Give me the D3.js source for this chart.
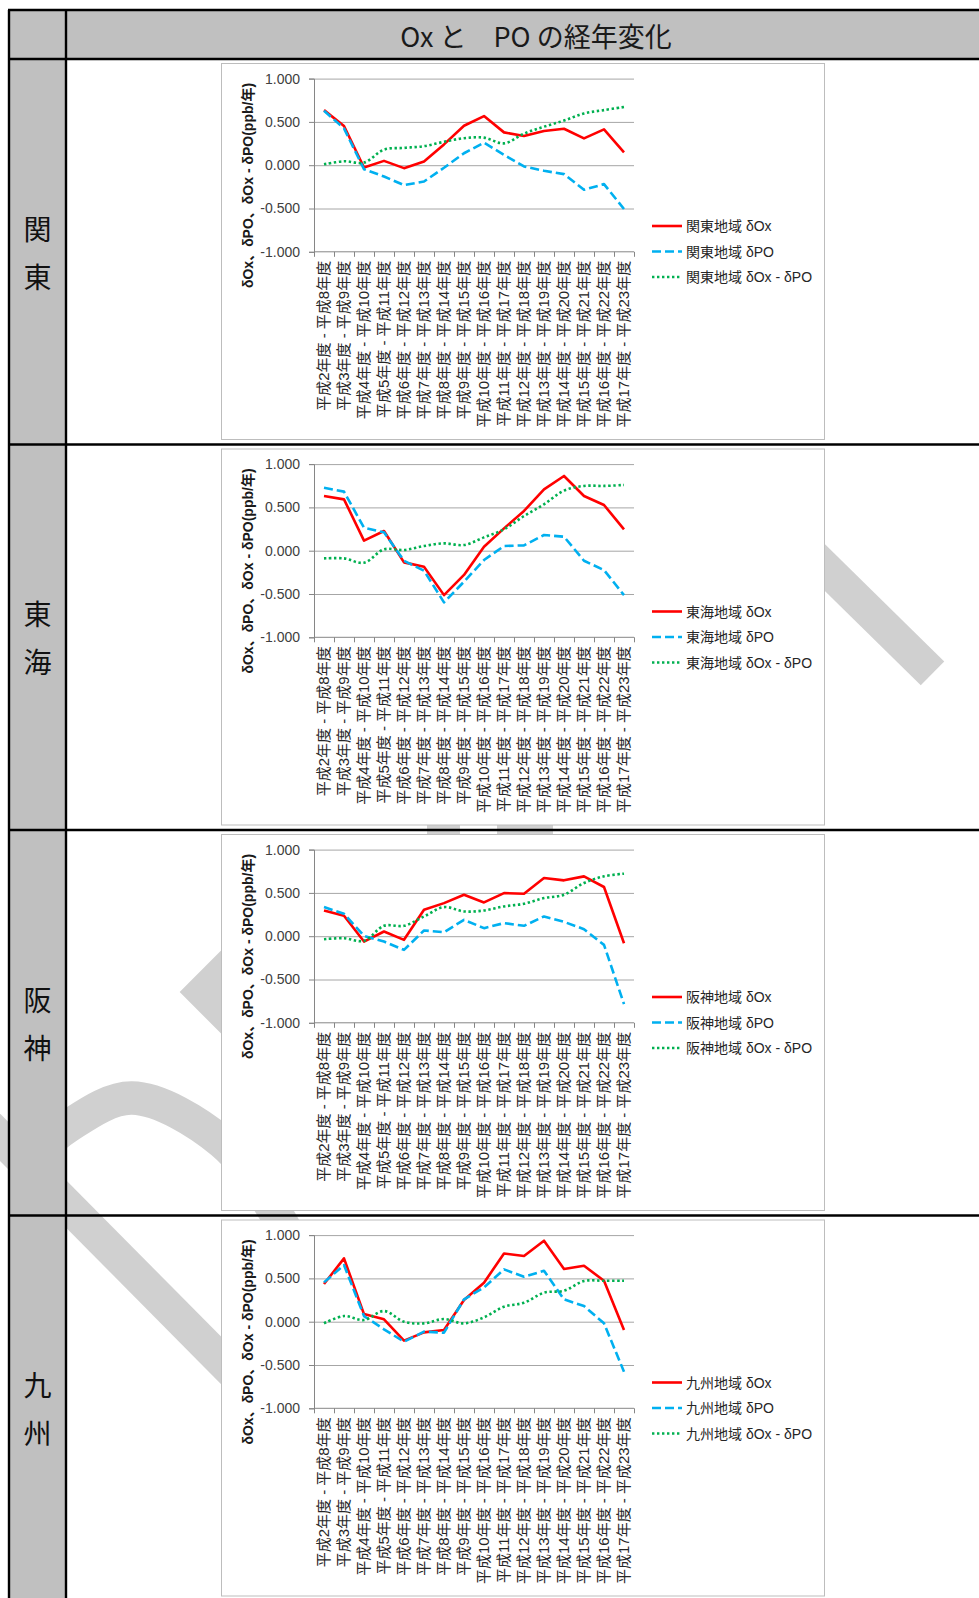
<!DOCTYPE html>
<html>
<head>
<meta charset="utf-8">
<script src="https://cdn.jsdelivr.net/npm/d3@7"></script>
<style>
  html, body { margin: 0; padding: 0; background: #fff; }
  svg { display: block; }
</style>
</head>
<body>
<svg id="chart" width="979" height="1598"></svg>
<script>
// ---- data -------------------------------------------------------------
const pageTitle = "Ox と\u3000PO の経年変化";

const periodLabels = [
  "平成2年度 - 平成8年度", "平成3年度 - 平成9年度", "平成4年度 - 平成10年度",
  "平成5年度 - 平成11年度", "平成6年度 - 平成12年度", "平成7年度 - 平成13年度",
  "平成8年度 - 平成14年度", "平成9年度 - 平成15年度", "平成10年度 - 平成16年度",
  "平成11年度 - 平成17年度", "平成12年度 - 平成18年度", "平成13年度 - 平成19年度",
  "平成14年度 - 平成20年度", "平成15年度 - 平成21年度", "平成16年度 - 平成22年度",
  "平成17年度 - 平成23年度"
];

const regionLabels = ["関東", "東海", "阪神", "九州"];
const regionNames  = ["関東地域", "東海地域", "阪神地域", "九州地域"];
const seriesNames  = ["δOx", "δPO", "δOx - δPO"];

const yTickValues = [1, 0.5, 0, -0.5, -1];
const axisTitle = "δOx、δPO、δOx - δPO(ppb/年)";

// 関東
const kantoOx   = [0.636, 0.452, -0.027, 0.050, -0.034, 0.042, 0.240, 0.456, 0.567, 0.379, 0.337, 0.395, 0.421, 0.310, 0.414, 0.149];
const kantoPO   = [0.628, 0.425, -0.046, -0.130, -0.230, -0.188, -0.030, 0.138, 0.260, 0.119, -0.015, -0.065, -0.103, -0.284, -0.218, -0.506];
const kantoDiff = [0.010, 0.045, 0.030, 0.180, 0.200, 0.220, 0.270, 0.312, 0.318, 0.252, 0.365, 0.445, 0.515, 0.598, 0.636, 0.672];
// 東海
const tokaiOx   = [0.632, 0.593, 0.116, 0.227, -0.135, -0.185, -0.513, -0.280, 0.046, 0.258, 0.459, 0.709, 0.863, 0.632, 0.528, 0.247];
const tokaiPO   = [0.728, 0.682, 0.266, 0.212, -0.116, -0.231, -0.597, -0.358, -0.108, 0.054, 0.062, 0.181, 0.162, -0.116, -0.224, -0.513];
const tokaiDiff = [-0.089, -0.089, -0.139, 0.015, 0.008, 0.054, 0.085, 0.066, 0.154, 0.247, 0.400, 0.536, 0.694, 0.748, 0.748, 0.759];
// 阪神
const hanshinOx   = [0.297, 0.236, -0.062, 0.054, -0.042, 0.305, 0.382, 0.479, 0.390, 0.498, 0.490, 0.672, 0.645, 0.691, 0.568, -0.081];
const hanshinPO   = [0.336, 0.259, 0.004, -0.062, -0.158, 0.066, 0.046, 0.189, 0.093, 0.151, 0.120, 0.228, 0.166, 0.081, -0.100, -0.784];
const hanshinDiff = [-0.035, -0.023, -0.054, 0.120, 0.120, 0.228, 0.336, 0.286, 0.297, 0.344, 0.375, 0.440, 0.479, 0.614, 0.691, 0.722];
// 九州
const kyushuOx   = [0.435, 0.731, 0.088, 0.027, -0.219, -0.123, -0.096, 0.250, 0.450, 0.788, 0.758, 0.935, 0.608, 0.646, 0.473, -0.096];
const kyushuPO   = [0.454, 0.654, 0.065, -0.088, -0.231, -0.115, -0.127, 0.258, 0.396, 0.604, 0.519, 0.588, 0.258, 0.181, -0.019, -0.577];
const kyushuDiff = [-0.019, 0.065, 0.019, 0.123, 0.000, -0.019, 0.031, -0.019, 0.050, 0.173, 0.219, 0.335, 0.358, 0.469, 0.473, 0.473];

const regionSeries = [
  [kantoOx, kantoPO, kantoDiff],
  [tokaiOx, tokaiPO, tokaiDiff],
  [hanshinOx, hanshinPO, hanshinDiff],
  [kyushuOx, kyushuPO, kyushuDiff]
];

// ---- page layout ------------------------------------------------------
const W = 979, H = 1598;
const outerX = 9, colDivX = 66, topY = 10, titleY = 59;
const rowTops = [59, 444.5, 830, 1215.5];
const rowH = 385.5;
const ruleW = 2.4;
const cellGray = "#c0c0c0";

const boxLeft = 221.5, boxWidth = 603, boxHeight = 377;
const plotLeft = 314, plotRight = 634;

const seriesStyles = [
  { color: "#ff0000", dash: null,      curve: d3.curveLinear },
  { color: "#00b0f0", dash: "9,4",     curve: d3.curveLinear },
  { color: "#00b050", dash: "2.4,2.6", curve: d3.curveCatmullRom.alpha(0.5) }
];

const latinFont = "'Liberation Sans', 'Noto Sans CJK JP', sans-serif";
const cjkFont = "'Noto Sans CJK JP', sans-serif";

const fmt = d3.formatLocale({
  decimal: ".", thousands: ",", grouping: [3], currency: ["", ""], minus: "-"
}).format(".3f");

const svg = d3.select("#chart");
svg.append("rect").attr("width", W).attr("height", H).attr("fill", "#fff");

// ---- background stamp (light grey strokes behind the table) ---------
const stampGray = "#d0d0d0";
const stamp = svg.append("g")
  .attr("fill", "none")
  .attr("stroke", stampGray)
  .attr("stroke-width", 33.5);

stamp.append("path")
  .attr("d", d3.line()([[767, 510.7], [932.5, 673.4]]));

stamp.append("path")
  .attr("stroke-linejoin", "miter")
  .attr("d", d3.line()([[303, 892], [203.3, 992], [303, 1092]]));

stamp.append("path")
  .attr("d", d3.line().curve(d3.curveCatmullRom.alpha(0.5))(
    [[40, 1150], [67, 1127], [132, 1098], [222, 1142], [275, 1212], [320, 1300]]));

stamp.append("path")
  .attr("d", d3.line()([[-20, 1117], [400, 1541]]));

// stamp strokes that pass between the second and third charts
svg.append("g").attr("fill", stampGray).selectAll("rect")
  .data([[427, 460], [497, 553]]).join("rect")
  .attr("x", d => d[0]).attr("width", d => d[1] - d[0])
  .attr("y", 818).attr("height", 24);

// ---- table ------------------------------------------------------------
svg.append("rect")
  .attr("x", outerX).attr("y", topY)
  .attr("width", W - outerX).attr("height", titleY - topY)
  .attr("fill", cellGray);
svg.append("rect")
  .attr("x", outerX).attr("y", titleY)
  .attr("width", colDivX - outerX).attr("height", H - titleY)
  .attr("fill", cellGray);

const rules = svg.append("g").attr("stroke", "#000").attr("stroke-width", ruleW);
rules.append("line").attr("x1", outerX - 1).attr("x2", W).attr("y1", topY).attr("y2", topY);
rules.append("line").attr("x1", outerX).attr("x2", outerX).attr("y1", topY).attr("y2", H);
rules.append("line").attr("x1", colDivX).attr("x2", colDivX).attr("y1", topY).attr("y2", H);
rowTops.forEach(yy => {
  rules.append("line").attr("x1", outerX).attr("x2", W).attr("y1", yy).attr("y2", yy);
});

svg.append("text")
  .attr("x", 536).attr("y", 35)
  .attr("text-anchor", "middle")
  .attr("dominant-baseline", "central")
  .attr("font-family", cjkFont)
  .attr("font-size", 27)
  .attr("fill", "#1a1a1a")
  .text(pageTitle);

// ---- one chart per region ----------------------------------------------
regionLabels.forEach((label, i) => {
  const rowTop = rowTops[i];
  const rowMid = rowTop + rowH / 2;

  // vertical region label in the grey column
  const chars = Array.from(label);
  svg.append("g").selectAll("text").data(chars).join("text")
    .attr("x", (outerX + colDivX) / 2)
    .attr("y", (d, k) => rowMid + (k - (chars.length - 1) / 2) * 48)
    .attr("text-anchor", "middle")
    .attr("dominant-baseline", "central")
    .attr("font-family", cjkFont)
    .attr("font-size", 28)
    .attr("fill", "#111")
    .text(d => d);

  const top = rowTop + 4;
  const g = svg.append("g");

  g.append("rect")
    .attr("x", boxLeft).attr("y", top + 0.5)
    .attr("width", boxWidth).attr("height", boxHeight - 1)
    .attr("fill", "#fff").attr("stroke", "#bdbdbd").attr("stroke-width", 1);

  const x = d3.scaleBand().domain(periodLabels).range([plotLeft, plotRight]);
  const xEdge = d3.scaleLinear().domain([0, periodLabels.length]).range([plotLeft, plotRight]);
  const y = d3.scaleLinear().domain([-1, 1]).range([top + 188.8, top + 15.6]);
  const cx = d => x(d) + x.bandwidth() / 2;

  // gridlines
  g.append("g")
    .attr("transform", `translate(${plotLeft},0)`)
    .call(d3.axisLeft(y).tickValues(yTickValues.filter(v => v > -1)).tickSize(-(plotRight - plotLeft)).tickFormat(""))
    .call(s => s.select(".domain").remove())
    .call(s => s.selectAll("line").attr("stroke", "#a6a6a6"));

  // value axis
  g.append("g")
    .attr("transform", `translate(${plotLeft},0)`)
    .call(d3.axisLeft(y).tickValues(yTickValues).tickSize(5).tickPadding(9).tickFormat(fmt))
    .call(s => s.select(".domain").attr("stroke", "#868686"))
    .call(s => s.selectAll("line").attr("stroke", "#868686"))
    .call(s => s.selectAll("text")
      .attr("font-family", latinFont).attr("font-size", 14).attr("fill", "#404040"));

  // category axis: ticks between categories
  g.append("g")
    .attr("transform", `translate(0,${y(-1)})`)
    .call(d3.axisBottom(xEdge).tickValues(d3.range(periodLabels.length + 1)).tickSize(5).tickFormat(""))
    .call(s => s.select(".domain").attr("stroke", "#868686").attr("d", `M${plotLeft},0H${plotRight}`))
    .call(s => s.selectAll("line").attr("stroke", "#868686"));

  g.append("g").selectAll("text").data(periodLabels).join("text")
    .attr("transform", d => `translate(${cx(d)},${y(-1) + 9}) rotate(-90)`)
    .attr("text-anchor", "end")
    .attr("dy", "0.36em")
    .attr("font-family", latinFont)
    .attr("font-size", 15)
    .attr("fill", "#262626")
    .text(d => d);

  // axis title
  g.append("text")
    .attr("transform", `translate(248,${top + 122.5}) rotate(-90)`)
    .attr("text-anchor", "middle")
    .attr("dominant-baseline", "central")
    .attr("font-family", latinFont)
    .attr("font-weight", "bold")
    .attr("font-size", 14)
    .attr("fill", "#1a1a1a")
    .text(axisTitle);

  // series
  regionSeries[i].forEach((vals, s) => {
    const st = seriesStyles[s];
    g.append("path")
      .datum(vals)
      .attr("fill", "none")
      .attr("stroke", st.color)
      .attr("stroke-width", 2.6)
      .attr("stroke-dasharray", st.dash)
      .attr("stroke-linejoin", "round")
      .attr("d", d3.line()
        .x((v, j) => cx(periodLabels[j]))
        .y(v => y(v))
        .curve(st.curve));
  });

  // legend
  const legend = g.append("g");
  seriesNames.forEach((nm, s) => {
    const st = seriesStyles[s];
    const ly = top + 163 + s * 25.5;
    legend.append("line")
      .attr("x1", 652).attr("x2", 682).attr("y1", ly).attr("y2", ly)
      .attr("stroke", st.color).attr("stroke-width", 2.6)
      .attr("stroke-dasharray", st.dash);
    legend.append("text")
      .attr("x", 686).attr("y", ly)
      .attr("dominant-baseline", "central")
      .attr("font-family", latinFont)
      .attr("font-size", 14)
      .attr("fill", "#262626")
      .text(`${regionNames[i]} ${nm}`);
  });
});
</script>
</body>
</html>
